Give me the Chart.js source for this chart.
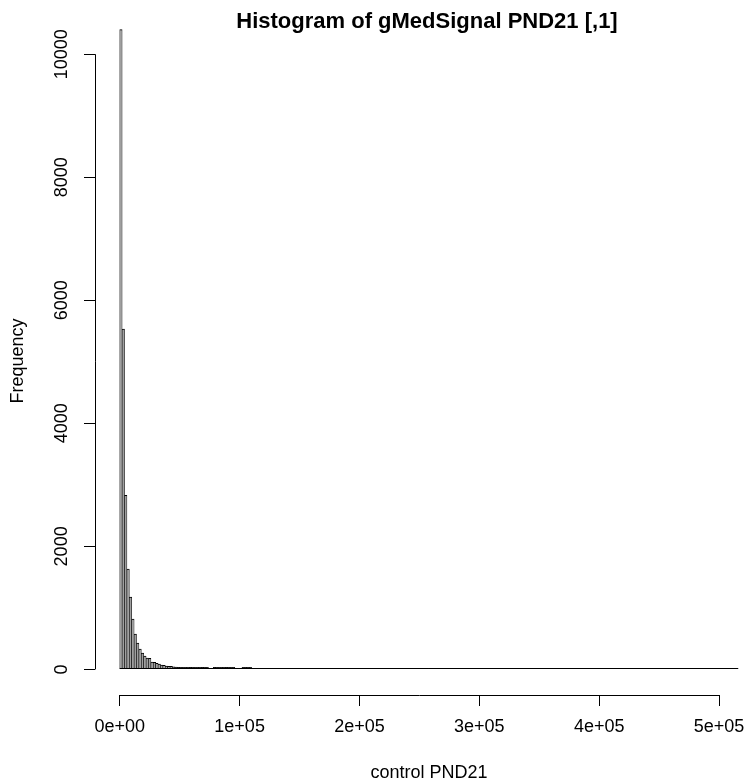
<!DOCTYPE html>
<html>
<head>
<meta charset="utf-8">
<title>Histogram of gMedSignal PND21 [,1]</title>
<script src="https://cdn.jsdelivr.net/npm/chart.js@4.4.1/dist/chart.umd.min.js"></script>
<style>
    html, body { margin: 0; background: #ffffff; overflow: hidden; }
    canvas { display: block; }
</style>
</head>
<body>
<!-- the plot region runs a little past the right edge of the window, as in the R device -->
<canvas id="histChart" width="765" height="783"></canvas>
<script>
var chartTitle = "Histogram of gMedSignal PND21 [,1]";
var xTitle = "control PND21";
var yTitle = "Frequency";

// bins are 2000 wide starting at 0; every bin after the listed ones is empty up to lastBreak
var binWidth = 2000;
var lastBreak = 516000;
var counts = [10400, 5530, 2830, 1630, 1175, 817, 574, 426, 330, 265,
              216, 184, 180, 118, 115, 100, 85, 70, 66, 55,
              52, 48, 40, 36, 30, 28, 24, 22, 20, 18,
              16, 12, 10, 9, 8, 8, 7, 0, 0, 6,
              5, 6, 5, 4, 5, 4, 3, 4, 0, 0,
              0, 3, 4, 3, 2];

var xTickValues = [0, 100000, 200000, 300000, 400000, 500000];
var xTickLabels = ["0e+00", "1e+05", "2e+05", "3e+05", "4e+05", "5e+05"];
var yTickValues = [0, 2000, 4000, 6000, 8000, 10000];
var yTickLabels = ["0", "2000", "4000", "6000", "8000", "10000"];

// empty bins are left out, the zero line stands in for them
var points = counts.map(function(c, i) {
    return { x: i * binWidth + binWidth / 2, y: c === 0 ? null : c };
});

// R style 4% padding around the data range
var maxCount = Math.max.apply(null, counts);
var xPad = 0.04 * lastBreak;
var yPad = 0.04 * maxCount;

var fontFamily = "'Liberation Sans', Arial, sans-serif";
var axisFont = { family: fontFamily, size: 18 };

// axis lines only run between the first and last tick, plus titles and the zero line
var rAxes = {
    id: "rAxes",
    afterDatasetsDraw: function(chart) {
        var ctx = chart.ctx;
        var x = chart.scales.x;
        var y = chart.scales.y;
        ctx.save();
        ctx.strokeStyle = "#000000";
        ctx.lineWidth = 1;
        var y0 = Math.round(y.getPixelForValue(0)) - 0.5;
        ctx.beginPath();
        ctx.moveTo(x.getPixelForValue(0), y0);
        ctx.lineTo(x.getPixelForValue(lastBreak), y0);
        ctx.stroke();
        ctx.restore();
    },
    afterDraw: function(chart) {
        var ctx = chart.ctx;
        var x = chart.scales.x;
        var y = chart.scales.y;
        var area = chart.chartArea;
        ctx.save();
        ctx.strokeStyle = "#000000";
        ctx.lineWidth = 1;

        var ax = Math.round(area.left) + 0.5;
        ctx.beginPath();
        ctx.moveTo(ax, y.getPixelForValue(yTickValues[0]));
        ctx.lineTo(ax, y.getPixelForValue(yTickValues[yTickValues.length - 1]));
        ctx.stroke();

        var ay = Math.round(area.bottom) + 0.5;
        ctx.beginPath();
        ctx.moveTo(x.getPixelForValue(xTickValues[0]), ay);
        ctx.lineTo(x.getPixelForValue(xTickValues[xTickValues.length - 1]), ay);
        ctx.stroke();

        ctx.fillStyle = "#000000";
        ctx.textAlign = "center";
        ctx.font = "bold 22px " + fontFamily;
        ctx.textBaseline = "alphabetic";
        ctx.fillText(chartTitle, (area.left + area.right) / 2 - 2, 28);

        ctx.font = "18px " + fontFamily;
        ctx.textBaseline = "middle";
        ctx.fillText(xTitle, (area.left + area.right) / 2, 773);

        ctx.translate(18, 361);
        ctx.rotate(-Math.PI / 2);
        ctx.fillText(yTitle, 0, 0);
        ctx.restore();
    }
};

var ctx = document.getElementById("histChart");
var histChart = new Chart(ctx, {
    type: "bar",
    data: {
        datasets: [{
            label: yTitle,
            data: points,
            backgroundColor: "#a0a0a0",
            borderColor: "#000000",
            borderWidth: { left: 0.6, top: 1, right: 0.6, bottom: 0 },
            borderSkipped: false,
            minBarLength: 2,
            barPercentage: 1,
            categoryPercentage: 1
        }]
    },
    options: {
        responsive: false,
        animation: false,
        devicePixelRatio: 1,
        layout: { padding: { top: 4, left: 0, right: 2, bottom: 0 } },
        plugins: {
            legend: { display: false },
            tooltip: { enabled: false },
            title: { display: false }
        },
        scales: {
            x: {
                type: "linear",
                offset: false,
                min: -xPad,
                max: lastBreak + xPad,
                afterBuildTicks: function(scale) {
                    scale.ticks = xTickValues.map(function(v) { return { value: v }; });
                },
                afterFit: function(scale) {
                    scale.height = 88;
                    scale.paddingLeft = 0;
                    scale.paddingRight = 0;
                },
                grid: {
                    display: true,
                    offset: false,
                    drawOnChartArea: false,
                    drawTicks: true,
                    tickLength: 11,
                    tickColor: "#000000",
                    color: "#000000"
                },
                border: { display: false },
                ticks: {
                    autoSkip: false,
                    maxRotation: 0,
                    minRotation: 0,
                    padding: 10,
                    color: "#000000",
                    font: axisFont,
                    callback: function(value, index) { return xTickLabels[index]; }
                },
                title: { display: false }
            },
            y: {
                type: "linear",
                min: -yPad,
                max: maxCount + yPad,
                afterBuildTicks: function(scale) {
                    scale.ticks = yTickValues.map(function(v) { return { value: v }; });
                },
                afterFit: function(scale) {
                    scale.width = 95;
                    scale.paddingTop = 0;
                    scale.paddingBottom = 0;
                },
                grid: {
                    display: true,
                    drawOnChartArea: false,
                    drawTicks: true,
                    tickLength: 11,
                    tickColor: "#000000",
                    color: "#000000"
                },
                border: { display: false },
                ticks: {
                    autoSkip: false,
                    minRotation: 90,
                    maxRotation: 90,
                    crossAlign: "center",
                    padding: -3,
                    color: "#000000",
                    font: axisFont,
                    callback: function(value, index) { return yTickLabels[index]; }
                },
                title: { display: false }
            }
        }
    },
    plugins: [rAxes]
});
</script>
</body>
</html>
